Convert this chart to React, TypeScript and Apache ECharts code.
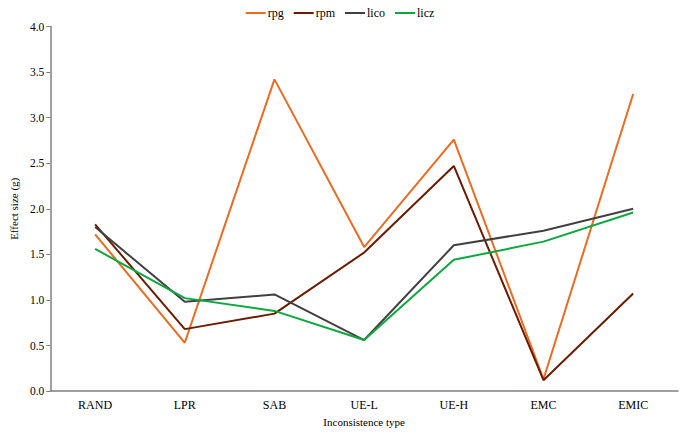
import React, { useEffect, useRef } from "react";
import * as echarts from "echarts";

const categories = ["RAND", "LPR", "SAB", "UE-L", "UE-H", "EMC", "EMIC"];
const yTicks = [0, 0.5, 1, 1.5, 2, 2.5, 3, 3.5, 4];
const seriesNames = ["rpg", "rpm", "lico", "licz"];
const rpg = [1.72, 0.53, 3.42, 1.58, 2.76, 0.13, 3.26];
const rpm = [1.83, 0.68, 0.85, 1.52, 2.47, 0.12, 1.07];
const lico = [1.8, 0.98, 1.06, 0.56, 1.6, 1.76, 2.0];
const licz = [1.56, 1.02, 0.88, 0.56, 1.44, 1.64, 1.96];
const colors = ["#EE6A1E", "#6B1C00", "#404040", "#0CA83E"];

const FONT = "Liberation Serif";

export default function App() {
  const ref = useRef<HTMLDivElement>(null);
  useEffect(() => {
    document.body.style.margin = "0";
    const chart = echarts.init(ref.current!, null, { renderer: "svg" });
    const data = [rpg, rpm, lico, licz];
    chart.setOption({
      animation: false,
      textStyle: { fontFamily: FONT },
      legend: {
        top: 2,
        left: "center",
        itemWidth: 20,
        itemHeight: 2,
        itemGap: 10,
        icon: "rect",
        data: seriesNames,
        textStyle: { fontFamily: FONT, fontSize: 12, color: "#000", padding: [0, 0, 0, -3] },
      },
      grid: { left: 41, right: 2, top: 26.5, bottom: 38, containLabel: false },
      xAxis: {
        type: "category",
        data: categories,
        boundaryGap: true,
        name: "Inconsistence type",
        nameLocation: "middle",
        nameGap: 24,
        nameTextStyle: { fontFamily: FONT, fontSize: 11, color: "#000" },
        axisLine: { lineStyle: { color: "#808080", width: 1.5 } },
        axisTick: { alignWithLabel: true, length: 4, lineStyle: { color: "#808080" } },
        axisLabel: { fontFamily: FONT, fontSize: 12, color: "#000", margin: 8 },
      },
      yAxis: {
        type: "value",
        min: yTicks[0],
        max: yTicks[yTicks.length - 1],
        interval: 0.5,
        name: "Effect size (g)",
        nameLocation: "middle",
        nameGap: 31,
        nameRotate: 90,
        nameTextStyle: { fontFamily: FONT, fontSize: 11, color: "#000" },
        axisLine: { show: true, lineStyle: { color: "#808080", width: 1.5 } },
        axisTick: { show: true, length: 4, lineStyle: { color: "#808080" } },
        splitLine: { show: false },
        axisLabel: {
          fontFamily: FONT,
          fontSize: 11.5,
          color: "#000",
          margin: 6,
          formatter: (v: number) => v.toFixed(1),
        },
      },
      series: seriesNames.map((n, i) => ({
        name: n,
        type: "line",
        data: data[i],
        symbol: "none",
        color: colors[i],
        lineStyle: { width: 2, color: colors[i] },
      })),
    });
    return () => chart.dispose();
  }, []);
  return (
    <div
      ref={ref}
      style={{ position: "absolute", left: 0, top: 0, width: 680, height: 432, background: "#fff" }}
    />
  );
}
